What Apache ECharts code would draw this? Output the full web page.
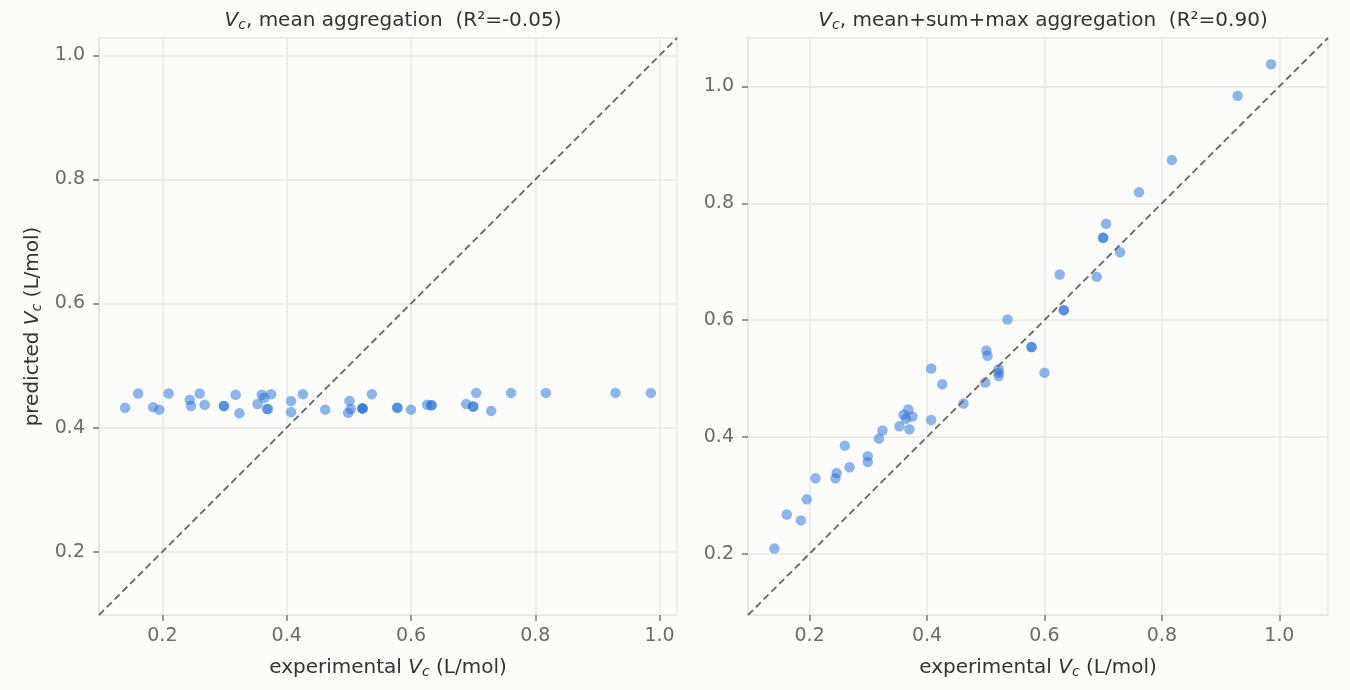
<!DOCTYPE html>
<html>
<head>
<meta charset="utf-8">
<script src="https://cdn.jsdelivr.net/npm/echarts@6/dist/echarts.min.js"></script>
<style>
  html, body { margin: 0; padding: 0; background: #fcfcfb; }
  #chart { width: 1350px; height: 690px; }
</style>
</head>
<body>
<div id="chart"></div>
<script>
var myChart = echarts.init(document.getElementById('chart'));

// experimental Vc (L/mol), shared by both panels
var expVc = [0.140, 0.161, 0.185, 0.195, 0.210, 0.244, 0.246, 0.260, 0.268, 0.299, 0.299, 0.318, 0.324, 0.353, 0.360,
  0.364, 0.368, 0.370, 0.375, 0.407, 0.407, 0.426, 0.462, 0.499, 0.501, 0.503, 0.522, 0.522, 0.522, 0.537,
  0.578, 0.578, 0.600, 0.626, 0.633, 0.633, 0.689, 0.700, 0.700, 0.705, 0.729, 0.761, 0.817, 0.929, 0.986];
// predicted, mean aggregation
var predMean = [0.432, 0.455, 0.433, 0.429, 0.455, 0.445, 0.435, 0.455, 0.437, 0.435, 0.435, 0.453, 0.423, 0.438, 0.453,
  0.448, 0.430, 0.430, 0.454, 0.443, 0.425, 0.454, 0.429, 0.424, 0.443, 0.430, 0.431, 0.431, 0.431, 0.454,
  0.432, 0.432, 0.429, 0.437, 0.436, 0.436, 0.438, 0.434, 0.434, 0.456, 0.427, 0.456, 0.456, 0.456, 0.456];
// predicted, mean+sum+max aggregation
var predMsm = [0.209, 0.267, 0.257, 0.293, 0.329, 0.329, 0.338, 0.385, 0.348, 0.367, 0.357, 0.397, 0.411, 0.418, 0.438,
  0.431, 0.447, 0.413, 0.435, 0.517, 0.429, 0.490, 0.457, 0.493, 0.548, 0.539, 0.516, 0.510, 0.504, 0.601,
  0.554, 0.554, 0.510, 0.678, 0.617, 0.617, 0.674, 0.741, 0.741, 0.765, 0.716, 0.819, 0.874, 0.984, 1.038];

var tickVals = [0.2, 0.4, 0.6, 0.8, 1.0];
var limsMean = [0.098, 1.028];
var limsMsm = [0.095, 1.083];

function zip(xs, ys) {
  var out = [];
  for (var i = 0; i < xs.length; i++) out.push([xs[i], ys[i]]);
  return out;
}

var FONT = 'DejaVu Sans';
var richVc = {
  v: { fontFamily: FONT, fontStyle: 'italic', fontWeight: 'normal', fontSize: 20, color: '#333' },
  c: { fontFamily: FONT, fontStyle: 'italic', fontWeight: 'normal', fontSize: 14, color: '#333', padding: [9, 0, 0, 0] },
  t: { fontFamily: FONT, fontWeight: 'normal', fontSize: 20, color: '#333' }
};

function makeAxis(idx, lims, name, isY) {
  return {
    type: 'value',
    gridIndex: idx,
    min: lims[0],
    max: lims[1],
    name: name,
    nameLocation: 'middle',
    nameGap: isY ? 55 : 41,
    nameTextStyle: { rich: richVc },
    axisLine: { show: true, lineStyle: { color: '#e6e6e6', width: 1.5 } },
    axisTick: { show: true, customValues: tickVals, length: 6, lineStyle: { color: '#777', width: 1.5 } },
    axisLabel: {
      customValues: tickVals,
      fontFamily: FONT, fontSize: 19, color: '#6b6b6b',
      margin: isY ? 14 : 12,
      formatter: function (v) { return v.toFixed(1); }
    },
    splitLine: { show: true, lineStyle: { color: '#e8e8e8', width: 1.5 } }
  };
}

var dotColor = 'rgba(30,110,215,0.62)';
var diagStyle = { color: '#666', width: 1.8, type: [7, 4] };

var option = {
  backgroundColor: '#fcfcfb',
  animation: false,
  title: [
    {
      text: '{v|V}{c|c}{t|, mean aggregation  (R²=-0.05)}',
      left: 388, top: 4, textAlign: 'center',
      textStyle: { fontWeight: 'normal', rich: richVc }
    },
    {
      text: '{v|V}{c|c}{t|, mean+sum+max aggregation  (R²=0.90)}',
      left: 1038, top: 4, textAlign: 'center',
      textStyle: { fontWeight: 'normal', rich: richVc }
    }
  ],
  grid: [
    { left: 99, top: 38, width: 578, height: 577, show: true, borderColor: '#e6e6e6', borderWidth: 1.5, backgroundColor: 'transparent' },
    { left: 748, top: 38, width: 580, height: 577, show: true, borderColor: '#e6e6e6', borderWidth: 1.5, backgroundColor: 'transparent' }
  ],
  xAxis: [
    makeAxis(0, limsMean, '{t|experimental }{v|V}{c|c}{t| (L/mol)}', false),
    makeAxis(1, limsMsm, '{t|experimental }{v|V}{c|c}{t| (L/mol)}', false)
  ],
  yAxis: [
    makeAxis(0, limsMean, '{t|predicted }{v|V}{c|c}{t| (L/mol)}', true),
    makeAxis(1, limsMsm, '', true)
  ],
  series: [
    {
      type: 'scatter', xAxisIndex: 0, yAxisIndex: 0,
      symbolSize: 10.5, itemStyle: { color: dotColor },
      data: zip(expVc, predMean), z: 2
    },
    {
      type: 'line', xAxisIndex: 0, yAxisIndex: 0,
      data: [[limsMean[0], limsMean[0]], [limsMean[1], limsMean[1]]],
      symbol: 'none', silent: true, z: 3,
      lineStyle: diagStyle
    },
    {
      type: 'scatter', xAxisIndex: 1, yAxisIndex: 1,
      symbolSize: 10.5, itemStyle: { color: dotColor },
      data: zip(expVc, predMsm), z: 2
    },
    {
      type: 'line', xAxisIndex: 1, yAxisIndex: 1,
      data: [[limsMsm[0], limsMsm[0]], [limsMsm[1], limsMsm[1]]],
      symbol: 'none', silent: true, z: 3,
      lineStyle: diagStyle
    }
  ]
};

myChart.setOption(option);
</script>
</body>
</html>
